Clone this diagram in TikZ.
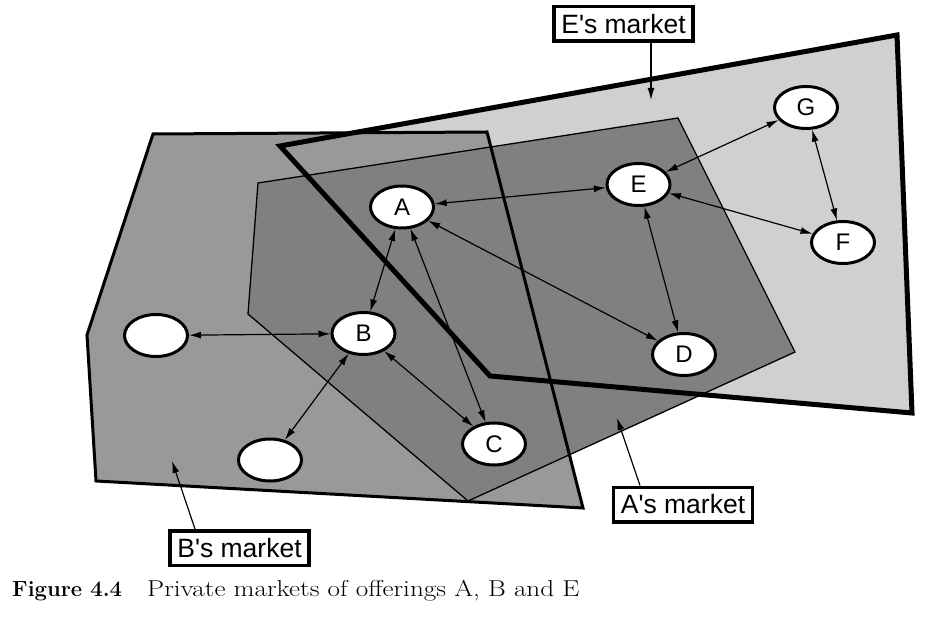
\documentclass[tikz,border=0pt]{standalone}
\usepackage{fontspec}
\newfontfamily\labfont{Liberation Sans}[Ligatures=TeXOff]
\usetikzlibrary{arrows.meta,shapes.geometric}
\definecolor{efill}{HTML}{D0D0D0}
\definecolor{bfill}{HTML}{999999}
\definecolor{afill}{HTML}{808080}
\tikzset{
  offer/.style={ellipse,draw=black,line width=3pt,fill=white,minimum width=63pt,minimum height=42pt,inner sep=0pt,font=\labfont\fontsize{24}{24}\selectfont},
  biarrow/.style={line width=1.2pt,{Latex[length=12pt,width=7pt]}-{Latex[length=12pt,width=7pt]}},
  ptr/.style={line width=1.2pt,-{Latex[length=12pt,width=7pt]}},
  mktlabel/.style={draw=black,line width=3.5pt,fill=white,minimum width=139pt,minimum height=34.5pt,inner sep=0pt,font=\labfont\fontsize{26.5}{26.5}\selectfont},
}
\begin{document}
\begin{tikzpicture}[x=1pt,y=-1pt]
\useasboundingbox (0,0) rectangle (934,617);
\fill[white] (0,0) rectangle (934,617);
% fills
\fill[efill] (280,146) -- (897,35) -- (912,413) -- (490,376) -- cycle;
\fill[bfill] (153,134) -- (487,132) -- (583,508) -- (96,481) -- (87,335) -- cycle;
\fill[afill] (258,183) -- (678,118) -- (795,352) -- (468,501) -- (248,314) -- cycle;
% outlines
\draw[line width=1.3pt,line join=miter] (258,183) -- (678,118) -- (795,352) -- (468,501) -- (248,314) -- cycle;
\draw[line width=3pt,line join=miter] (153,134) -- (487,132) -- (583,508) -- (96,481) -- (87,335) -- cycle;
\draw[line width=5pt,line join=miter] (280,146) -- (897,35) -- (912,413) -- (490,376) -- cycle;
% offerings
\node[offer] (A) at (402,207) {A};
\node[offer] (E) at (638.5,184.5) {E};
\node[offer] (G) at (806,107.5) {G};
\node[offer] (F) at (843,242.5) {F};
\node[offer] (B) at (363.5,333.5) {B};
\node[offer] (L) at (156,335.5) {};
\node[offer] (M) at (270,460) {};
\node[offer] (C) at (494,444) {C};
\node[offer] (D) at (684,354.5) {D};
% connections
\draw[biarrow] (A) -- (E);
\draw[biarrow] (E) -- (G);
\draw[biarrow] (E) -- (F);
\draw[biarrow] (G) -- (F);
\draw[biarrow] (E) -- (D);
\draw[biarrow] (A) -- (B);
\draw[biarrow] (A) -- (C);
\draw[biarrow] (A) -- (D);
\draw[biarrow] (L) -- (B);
\draw[biarrow] (M) -- (B);
\draw[biarrow] (B) -- (C);
% market labels
\node[mktlabel] (Elab) at (623.5,24) {E's market};
\node[mktlabel] (Alab) at (683,504.5) {A's market};
\node[mktlabel] (Blab) at (239.5,548) {B's market};
\coordinate (Etip) at (651,100);
\coordinate (Atip) at (617,418);
\coordinate (Btip) at (172,461);
\draw[ptr] ([xshift=27.5pt]Elab.south) -- (Etip);
\draw[ptr] ([xshift=-43pt]Alab.north) -- (Atip);
\draw[ptr] ([xshift=-44.5pt]Blab.north) -- (Btip);
% caption
\node[anchor=base west,inner sep=0pt,font=\fontsize{22}{22}\selectfont] (cap1) at (12,596) {\textbf{Figure 4.4}};
\node[anchor=base west,inner sep=0pt,font=\fontsize{23}{23}\selectfont,xscale=1.18,transform shape] (cap2) at (147,596) {Private markets of offerings A, B and E};
\end{tikzpicture}
\end{document}
